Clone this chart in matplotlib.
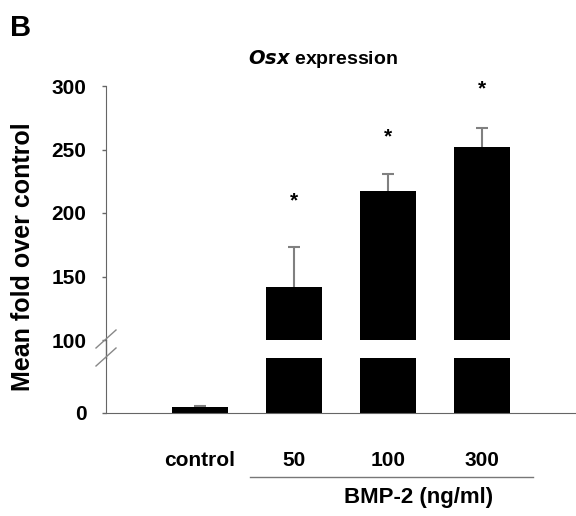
import matplotlib
matplotlib.use('Agg')
import matplotlib.pyplot as plt
import matplotlib.transforms as mtransforms
from matplotlib.lines import Line2D

plt.rcParams['font.family'] = ['Liberation Sans', 'DejaVu Sans']
plt.rcParams['font.weight'] = 'bold'

# data
groups = ['control', '50', '100', '300']
means = [4.5, 142, 217, 252]
errors = [1, 31, 14, 15]
star_y = [None, 215, 265, 303]
upper_ticks = [100, 150, 200, 250, 300]

W, H = 576, 516
fig = plt.figure(figsize=(W / 100, H / 100), dpi=100)

def px_box(left, top, right, bottom):
    return [left / W, 1 - bottom / H, (right - left) / W, (bottom - top) / H]

ax_top = fig.add_axes(px_box(106, 86, 576, 340))
ax_bot = fig.add_axes(px_box(106, 358, 576, 413))

xs = list(range(1, len(groups) + 1))
spine_col = '#666666'
err_col = '#808080'

for ax in (ax_top, ax_bot):
    ax.bar(xs, means, width=0.6, color='black', edgecolor='none', zorder=2)
    eb = ax.errorbar(xs, means, yerr=[[0] * len(errors), errors], fmt='none',
                     ecolor=err_col, elinewidth=1.5, capsize=4, capthick=1.5, zorder=1)
    eb[1][0].set_visible(False)  # no cap at bar top
    ax.set_xlim(0, 5)
    for s in ('top', 'right'):
        ax.spines[s].set_visible(False)
    ax.spines['left'].set_color(spine_col)
    ax.tick_params(axis='y', direction='out', length=3, width=1, color=spine_col,
                   labelsize=15, pad=11)

ax_top.set_ylim(100, 300)
ax_top.set_yticks(upper_ticks)
ax_top.spines['bottom'].set_visible(False)
ax_top.set_xticks([])

ax_bot.set_ylim(0, 43.3)
ax_bot.set_yticks([0])
ax_bot.spines['bottom'].set_color(spine_col)
ax_bot.set_xticks(xs)
ax_bot.set_xticklabels(groups)
ax_bot.tick_params(axis='x', length=0, pad=27, labelsize=15)

# continuous spine across the break and break marks
fig.add_artist(Line2D([106 / W, 106 / W], [1 - 340 / H, 1 - 358 / H],
                      color=spine_col, lw=1))
for yc in (339, 357):
    fig.add_artist(Line2D([96 / W, 116 / W], [1 - (yc + 9) / H, 1 - (yc - 9) / H],
                          color='#888888', lw=1))

# significance stars
for x, y in zip(xs, star_y):
    if y is not None:
        ax_top.annotate('*', xy=(x, y), xytext=(0, -8.7), textcoords='offset points',
                        ha='center', va='baseline', fontsize=15, annotation_clip=False)

# BMP-2 bracket
trans = mtransforms.blended_transform_factory(ax_bot.transData, ax_bot.transAxes)
ax_bot.plot([1.53, 4.54], [-1.164, -1.164], color='#777777', lw=1,
            transform=trans, clip_on=False)
ax_bot.text(3.32, -1.53, 'BMP-2 (ng/ml)', transform=trans, ha='center', va='center',
            fontsize=16)

ax_top.set_ylabel('Mean fold over control', fontsize=18, fontweight='bold')
ax_top.yaxis.set_label_coords(-0.177, 0.327, transform=ax_top.transAxes)
ax_top.yaxis.label.set_va('center')

fig.text(323 / W, 1 - 59 / H, r'$\mathbfit{Osx}$ expression', ha='center', va='center',
         fontsize=14)
fig.text(10 / W, 1 - 28 / H, 'B', ha='left', va='center', fontsize=21)

fig.savefig('out.png', dpi=100)
